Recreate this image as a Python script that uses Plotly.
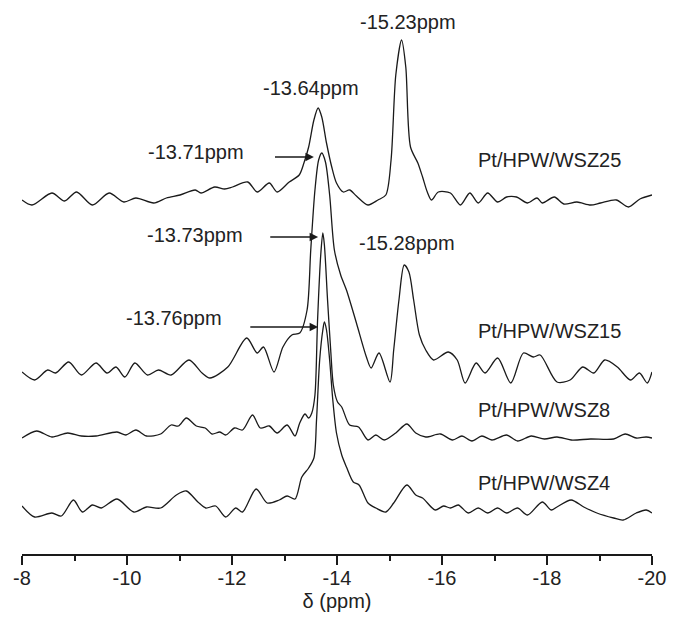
import plotly.graph_objects as go

# ---- data (chemical shift in ppm, relative intensity) ----
ppm_wsz25 = [-8.00, -8.19, -8.57, -8.81, -9.04, -9.34, -9.66, -9.94, -10.17, -10.51,
             -10.75, -11.01, -11.30, -11.41, -11.67, -11.86, -12.01, -12.30, -12.48, -12.71,
             -12.86, -13.09, -13.28, -13.37, -13.46, -13.56, -13.64, -13.71, -13.80, -13.90,
             -13.99, -14.12, -14.24, -14.37, -14.59, -14.78, -14.93, -15.03, -15.12, -15.23,
             -15.31, -15.40, -15.54, -15.63, -15.72, -15.80, -15.93, -16.16, -16.35, -16.53,
             -16.69, -16.87, -17.06, -17.23, -17.42, -17.63, -17.81, -17.91, -18.14, -18.32,
             -18.57, -18.83, -19.02, -19.32, -19.55, -19.77, -20.00]
int_wsz25 = [0, -5, 7, -1, 8, -5, 7, -2, 2, -3,
             2, 5, 10, 7, 13, 11, 13, 18, 8, 17,
             8, 18, 25, 37, 53, 80, 92, 83, 57, 33,
             17, 8, 10, 4, -5, 0, 5, 40, 125, 160,
             133, 53, 37, 23, 8, 0, 8, 7, -5, 7,
             -3, 7, -2, 3, 3, -3, 2, -3, 3, -4,
             -2, -5, -3, 0, -7, 1, 5]

ppm_wsz15 = [-8.00, -8.24, -8.49, -8.64, -8.89, -9.13, -9.41, -9.62, -9.79, -9.96,
             -10.15, -10.39, -10.60, -10.84, -11.18, -11.43, -11.58, -11.92, -12.28, -12.48,
             -12.60, -12.80, -12.97, -13.14, -13.29, -13.43, -13.50, -13.58, -13.65, -13.71,
             -13.78, -13.86, -13.95, -14.07, -14.18, -14.37, -14.56, -14.65, -14.80, -15.01,
             -15.08, -15.18, -15.28, -15.37, -15.46, -15.57, -15.69, -15.84, -16.12, -16.29,
             -16.44, -16.65, -16.82, -17.06, -17.31, -17.55, -17.74, -17.87, -18.19, -18.44,
             -18.68, -18.89, -19.10, -19.34, -19.59, -19.76, -19.91, -20.00]
int_wsz15 = [-2, -10, 0, -3, 8, -5, 7, -3, 3, -7,
             7, -5, 0, -5, 10, -3, -8, 3, 32, 17,
             23, -2, 23, 35, 37, 60, 120, 180, 210, 217,
             208, 175, 120, 95, 80, 47, 13, 2, 17, -12,
             20, 70, 105, 98, 70, 35, 20, 10, 18, 10,
             -13, 7, -3, 12, -13, 17, 13, 15, -12, -10,
             3, -3, 10, 3, -10, -3, -13, -2]

ppm_wsz8 = [-8.00, -8.28, -8.57, -8.87, -9.13, -9.41, -9.81, -9.98, -10.17, -10.37,
            -10.64, -10.84, -10.98, -11.13, -11.32, -11.49, -11.62, -11.77, -11.88, -12.05,
            -12.20, -12.39, -12.54, -12.71, -12.86, -13.05, -13.20, -13.29, -13.39, -13.46,
            -13.52, -13.58, -13.63, -13.69, -13.73, -13.76, -13.82, -13.88, -13.93, -14.01,
            -14.09, -14.24, -14.41, -14.59, -14.74, -14.90, -15.12, -15.33, -15.50, -15.69,
            -15.97, -16.20, -16.38, -16.57, -16.76, -16.95, -17.23, -17.44, -17.70, -17.95,
            -18.19, -18.46, -18.83, -19.27, -19.49, -19.70, -19.89, -20.00]
int_wsz8 = [-1, 6, 0, 4, 1, 1, 5, 2, 7, 1,
            3, 12, 11, 19, 11, 9, 3, 5, 2, 9,
            7, 22, 9, 11, 4, 12, 1, 14, 23, 19,
            24, 42, 117, 182, 204, 192, 137, 87, 52, 35,
            30, 12, 10, -3, 2, -3, 4, 13, 4, 0,
            3, -3, 1, -4, 1, -3, 2, -4, 1, -2,
            0, -3, -2, -2, 3, -1, 0, -1]

ppm_wsz4 = [-8.00, -8.24, -8.57, -8.75, -8.98, -9.15, -9.34, -9.51, -9.81, -10.13,
            -10.37, -10.64, -10.94, -11.13, -11.35, -11.50, -11.69, -11.88, -12.07, -12.20,
            -12.46, -12.67, -12.90, -13.05, -13.20, -13.33, -13.46, -13.56, -13.61, -13.67,
            -13.73, -13.76, -13.80, -13.86, -13.92, -13.99, -14.09, -14.18, -14.31, -14.42,
            -14.59, -14.74, -14.93, -15.08, -15.33, -15.50, -15.63, -15.87, -16.03, -16.16,
            -16.31, -16.50, -16.69, -16.87, -17.06, -17.23, -17.44, -17.63, -17.91, -18.08,
            -18.19, -18.46, -18.70, -18.95, -19.27, -19.45, -19.70, -19.89, -20.00]
int_wsz4 = [2, -9, -5, -8, 8, -4, 3, 0, 9, -4,
            1, 0, 13, 17, 6, 0, 2, -9, 0, -4,
            19, 5, 8, 12, 9, 31, 40, 50, 88, 148,
            178, 186, 178, 148, 108, 75, 53, 41, 26, 23,
            5, 0, -4, 5, 23, 13, 10, -2, 2, 0,
            3, -5, 0, -5, 0, -5, 0, -7, 6, -2,
            1, 8, 1, -5, -10, -12, -5, -2, -5]

sample_names = ["Pt/HPW/WSZ25", "Pt/HPW/WSZ15", "Pt/HPW/WSZ8", "Pt/HPW/WSZ4"]
stack_offsets = [354, 184, 117, 46]

peak_labels = ["-15.23ppm", "-13.64ppm", "-13.71ppm", "-13.73ppm", "-15.28ppm", "-13.76ppm"]

x_ticks = [-8, -10, -12, -14, -16, -18, -20]

FONT = "Liberation Sans, Arial, Helvetica, sans-serif"

fig = go.Figure()
series = [(ppm_wsz25, int_wsz25), (ppm_wsz15, int_wsz15), (ppm_wsz8, int_wsz8), (ppm_wsz4, int_wsz4)]
for (px, iy), name, off in zip(series, sample_names, stack_offsets):
    fig.add_trace(go.Scatter(
        x=px, y=[v + off for v in iy], mode="lines", name=name,
        line=dict(color="#1a1a1a", width=1.3, shape="spline", smoothing=0.8),
        showlegend=False, hoverinfo="skip"))

annotations = []
# sample labels
label_pos = [(-16.65, 394), (-16.65, 223), (-16.65, 144), (-16.65, 71)]
for name, (lx, ly) in zip(sample_names, label_pos):
    annotations.append(dict(x=lx, y=ly, xref="x", yref="y", text=name, showarrow=False,
                            xanchor="left", yanchor="middle",
                            font=dict(family=FONT, size=20, color="#222")))
# peak labels
peak_pos = [(-15.35, 532), (-13.51, 466), (-11.31, 402), (-11.29, 319), (-15.33, 311), (-10.89, 236)]
for t, (lx, ly) in zip(peak_labels, peak_pos):
    annotations.append(dict(x=lx, y=ly, xref="x", yref="y", text=t, showarrow=False,
                            xanchor="center", yanchor="middle",
                            font=dict(family=FONT, size=20, color="#222")))
# arrows
arrows = [((-12.79, 397), (-13.56, 397)), ((-12.70, 317), (-13.64, 317)), ((-12.32, 227), (-13.64, 227))]
for (tx, ty), (hx, hy) in arrows:
    annotations.append(dict(x=hx, y=hy, ax=tx, ay=ty, xref="x", yref="y", axref="x", ayref="y",
                            text="", showarrow=True, arrowhead=2, arrowsize=1.3, arrowwidth=1.3,
                            arrowcolor="#1a1a1a", standoff=0, startstandoff=0))

fig.update_layout(
    width=676, height=622,
    margin=dict(l=22, r=16, t=10, b=68),
    paper_bgcolor="white", plot_bgcolor="white",
    annotations=annotations,
    xaxis=dict(range=[-8, -20], tickvals=x_ticks, ticktext=[str(v) for v in x_ticks],
               ticks="outside", ticklen=9, tickwidth=2, tickcolor="#1a1a1a",
               showline=True, linecolor="#1a1a1a", linewidth=1.5,
               showgrid=False, zeroline=False, ticklabelstandoff=-4,
               minor=dict(dtick=1, tick0=-8, ticks="outside", ticklen=5, tickwidth=2, tickcolor="#1a1a1a"),
               tickfont=dict(family=FONT, size=20, color="#222"),
               title=dict(text="δ (ppm)", font=dict(family=FONT, size=20, color="#222"), standoff=6)),
    yaxis=dict(range=[0, 544], visible=False, showgrid=False, zeroline=False),
)

fig.write_html("out.html")
